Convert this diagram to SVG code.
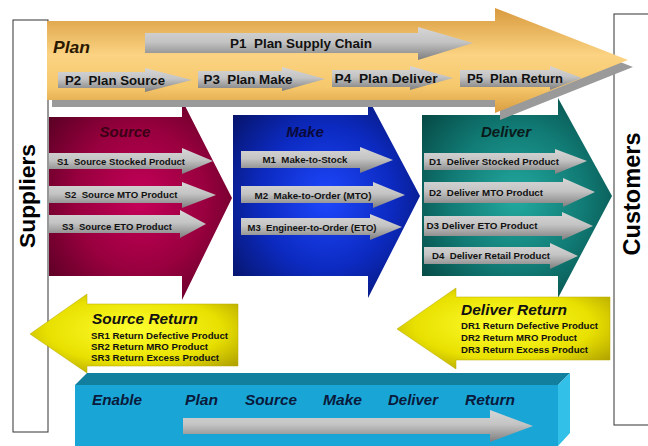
<svg xmlns="http://www.w3.org/2000/svg" width="648" height="446" viewBox="0 0 648 446">
<defs>
<linearGradient id="gold" x1="0" y1="0" x2="0" y2="1">
<stop offset="0" stop-color="#d89a3e"/><stop offset="0.45" stop-color="#fbd382"/><stop offset="0.75" stop-color="#f6c86c"/><stop offset="1" stop-color="#d99d40"/>
</linearGradient>
<linearGradient id="gray" x1="0" y1="0" x2="0" y2="1">
<stop offset="0" stop-color="#d6d6d6"/><stop offset="0.45" stop-color="#c4c4c4"/><stop offset="1" stop-color="#7e7e7e"/>
</linearGradient>
<radialGradient id="crimson" cx="0.5" cy="0.5" r="0.65">
<stop offset="0" stop-color="#c6005a"/><stop offset="0.55" stop-color="#98003e"/><stop offset="1" stop-color="#5a0024"/>
</radialGradient>
<radialGradient id="blue" cx="0.5" cy="0.5" r="0.65">
<stop offset="0" stop-color="#1e48ff"/><stop offset="0.55" stop-color="#0c2ac0"/><stop offset="1" stop-color="#06146a"/>
</radialGradient>
<radialGradient id="teal" cx="0.5" cy="0.5" r="0.65">
<stop offset="0" stop-color="#22aaa0"/><stop offset="0.55" stop-color="#117a74"/><stop offset="1" stop-color="#064844"/>
</radialGradient>
<radialGradient id="yellow" cx="0.5" cy="0.45" r="0.7">
<stop offset="0" stop-color="#ffff30"/><stop offset="0.6" stop-color="#e8e000"/><stop offset="1" stop-color="#a89800"/>
</radialGradient>
<style>
text{white-space:pre}
.box{fill:#fff;stroke:#333;stroke-width:1}
.ga{fill:url(#gray)}
.side{font-family:"Liberation Sans",Arial,sans-serif;font-weight:bold;fill:#000}
.t{font-family:"Liberation Sans",Arial,sans-serif;font-weight:bold;fill:#111}
.ti{font-family:"Liberation Sans",Arial,sans-serif;font-weight:bold;font-style:italic}
.p{font-size:12.5px;text-anchor:middle}
.s{font-size:9.5px;text-anchor:middle}
.r{font-size:9.5px}
.en{font-size:15px;fill:#0a1a3c}
</style>
</defs>
<g id="suppliers">
<rect class="box" x="13" y="20" width="35" height="412"/>
<text class="side" font-size="22" transform="translate(35,196) rotate(-90)" text-anchor="middle" textLength="104" lengthAdjust="spacingAndGlyphs">Suppliers</text>
</g>
<g id="customers">
<rect class="box" x="614" y="14" width="40" height="411"/>
<text class="side" font-size="23" transform="translate(640,194) rotate(-90)" text-anchor="middle" textLength="123" lengthAdjust="spacingAndGlyphs">Customers</text>
</g>
<g id="source">
<polygon points="49,117 182,117 182,100 232,198 182,300 182,276 49,276" fill="url(#crimson)"/>
<text class="ti" x="125" y="137" font-size="15" fill="#3a0015" text-anchor="middle">Source</text>
<polygon class="ga" points="49,153 182,153 182,148 213,161 182,174 182,169 49,169"/>
<text class="t s" x="121" y="165" textLength="128" lengthAdjust="spacingAndGlyphs">S1  Source Stocked Product</text>
<polygon class="ga" points="49,186 182,186 182,182 216,195 182,208 182,203 49,203"/>
<text class="t s" x="121" y="198" textLength="113" lengthAdjust="spacingAndGlyphs">S2  Source MTO Product</text>
<polygon class="ga" points="49,215 180,215 180,210 206,224 180,238 180,233 49,233"/>
<text class="t s" x="117" y="230" textLength="110" lengthAdjust="spacingAndGlyphs">S3  Source ETO Product</text>
</g>
<g id="make">
<polygon points="233,115 368,115 368,98 420,196 368,298 368,276 233,276" fill="url(#blue)"/>
<text class="ti" x="305" y="137" font-size="15" fill="#0a0a3a" text-anchor="middle">Make</text>
<polygon class="ga" points="241,151 360,151 360,147 393,160 360,173 360,168 241,168"/>
<text class="t s" x="305" y="163" textLength="85" lengthAdjust="spacingAndGlyphs">M1  Make-to-Stock</text>
<polygon class="ga" points="241,186 373,186 373,182 405,195 373,208 373,203 241,203"/>
<text class="t s" x="313" y="199" textLength="117" lengthAdjust="spacingAndGlyphs">M2  Make-to-Order (MTO)</text>
<polygon class="ga" points="241,218 370,218 370,214 402,227 370,240 370,235 241,235"/>
<text class="t s" x="312" y="231" textLength="129" lengthAdjust="spacingAndGlyphs">M3  Engineer-to-Order (ETO)</text>
</g>
<g id="deliver">
<polygon points="422,115 558,115 558,98 612,196 558,298 558,276 422,276" fill="url(#teal)"/>
<text class="ti" x="506" y="137" font-size="15" fill="#0a1a1a" text-anchor="middle">Deliver</text>
<polygon class="ga" points="424,153 555,153 555,149 587,161 555,174 555,170 424,170"/>
<text class="t s" x="494" y="165" textLength="130" lengthAdjust="spacingAndGlyphs">D1  Deliver Stocked Product</text>
<polygon class="ga" points="424,182 563,182 563,178 595,192 563,207 563,203 424,203"/>
<text class="t s" x="486" y="196" textLength="114" lengthAdjust="spacingAndGlyphs">D2  Deliver MTO Product</text>
<polygon class="ga" points="424,216 562,216 562,212 593,226 562,240 562,236 424,236"/>
<text class="t s" x="482" y="229" textLength="111" lengthAdjust="spacingAndGlyphs">D3 Deliver ETO Product</text>
<polygon class="ga" points="424,247 550,247 550,243 578,256 550,269 550,264 424,264"/>
<text class="t s" x="491" y="259" textLength="118" lengthAdjust="spacingAndGlyphs">D4  Deliver Retail Product</text>
</g>
<g id="plan">
<polygon points="52,28 500,28 500,15 633,67 500,120 500,107 52,107" fill="#9a9a9a"/>
<polygon points="47,21 495,21 495,8 628,60 495,113 495,100 47,100" fill="url(#gold)"/>
<text class="ti" x="53" y="53" font-size="17" fill="#2a1800" textLength="37" lengthAdjust="spacingAndGlyphs">Plan</text>
<polygon class="ga" points="145,33 418,33 418,27 473,43 418,60 418,53 145,53"/>
<text class="t p" x="301" y="48" textLength="142" lengthAdjust="spacingAndGlyphs">P1  Plan Supply Chain</text>
<polygon class="ga" points="58,72 145,72 145,68 192,80 145,92 145,88 58,88"/>
<text class="t p" x="115" y="85" textLength="100" lengthAdjust="spacingAndGlyphs">P2  Plan Source</text>
<polygon class="ga" points="198,71 282,71 282,67 325,79 282,91 282,88 198,88"/>
<text class="t p" x="248" y="84" textLength="89" lengthAdjust="spacingAndGlyphs">P3  Plan Make</text>
<polygon class="ga" points="332,70 410,70 410,66 453,78 410,90 410,87 332,87"/>
<text class="t p" x="386" y="83" textLength="103" lengthAdjust="spacingAndGlyphs">P4  Plan Deliver</text>
<polygon class="ga" points="460,70 550,70 550,66 582,78 550,90 550,87 460,87"/>
<text class="t p" x="515" y="83" textLength="96" lengthAdjust="spacingAndGlyphs">P5  Plan Return</text>
</g>
<g id="source-return">
<polygon points="238,304 87,304 87,294 30,334 87,373 87,366 238,366" fill="url(#yellow)" stroke="#b8a800" stroke-width="0.5"/>
<text class="ti" x="92" y="324" font-size="15.5" fill="#111" textLength="106" lengthAdjust="spacingAndGlyphs">Source Return</text>
<text class="t r" x="91" y="339" textLength="137" lengthAdjust="spacingAndGlyphs">SR1 Return Defective Product</text>
<text class="t r" x="91" y="350" textLength="117" lengthAdjust="spacingAndGlyphs">SR2 Return MRO Product</text>
<text class="t r" x="91" y="361" textLength="128" lengthAdjust="spacingAndGlyphs">SR3 Return Excess Product</text>
</g>
<g id="deliver-return">
<polygon points="610,297 456,297 456,288 397,329 456,369 456,360 610,360" fill="url(#yellow)" stroke="#b8a800" stroke-width="0.5"/>
<text class="ti" x="461" y="315" font-size="15.5" fill="#111" textLength="106" lengthAdjust="spacingAndGlyphs">Deliver Return</text>
<text class="t r" x="461" y="329" textLength="137" lengthAdjust="spacingAndGlyphs">DR1 Return Defective Product</text>
<text class="t r" x="461" y="341" textLength="116" lengthAdjust="spacingAndGlyphs">DR2 Return MRO Product</text>
<text class="t r" x="461" y="353" textLength="127" lengthAdjust="spacingAndGlyphs">DR3 Return Excess Product</text>
</g>
<g id="enable">
<polygon points="75,385 87,373 570,373 558,385" fill="#127f9f"/>
<polygon points="558,385 570,373 570,433 558,446" fill="#32bfe8"/>
<rect x="75" y="385" width="483" height="61" fill="#19a6d6"/>
<text class="ti en" x="92" y="405" textLength="50" lengthAdjust="spacingAndGlyphs">Enable</text>
<text class="ti en" x="185" y="405" textLength="33" lengthAdjust="spacingAndGlyphs">Plan</text>
<text class="ti en" x="245" y="405" textLength="52" lengthAdjust="spacingAndGlyphs">Source</text>
<text class="ti en" x="323" y="405" textLength="39" lengthAdjust="spacingAndGlyphs">Make</text>
<text class="ti en" x="388" y="405" textLength="50" lengthAdjust="spacingAndGlyphs">Deliver</text>
<text class="ti en" x="465" y="405" textLength="50" lengthAdjust="spacingAndGlyphs">Return</text>
<polygon class="ga" points="183,418 490,418 490,410 533,426 490,442 490,434 183,434"/>
</g>
<g id="connectors"/>
</svg>
